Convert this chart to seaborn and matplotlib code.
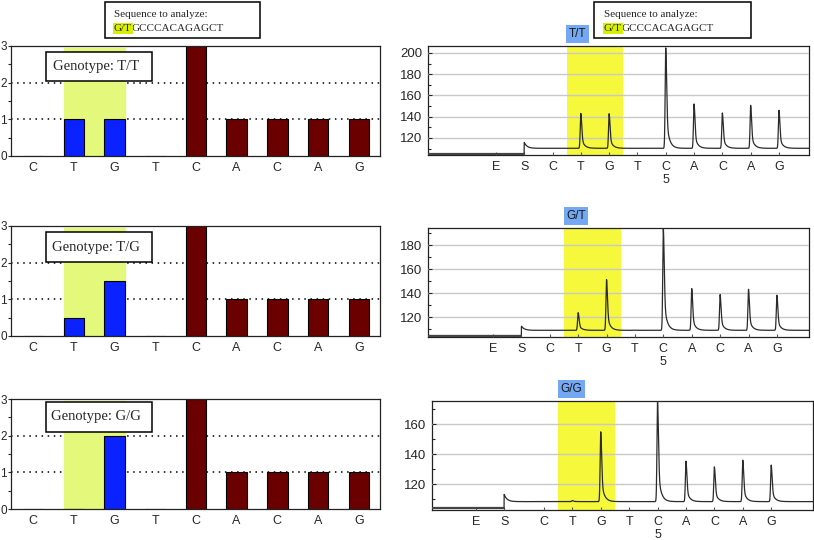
import numpy as np
import pandas as pd
import matplotlib
matplotlib.use("Agg")
import matplotlib.pyplot as plt
import matplotlib.transforms as mtransforms
from matplotlib.patches import Rectangle
import seaborn as sns

# expected peak histograms (left column)
bases = ["C", "T", "G", "T", "C", "A", "C", "A", "G"]
bar_group = ["ref", "snp", "snp", "ref", "ref", "ref", "ref", "ref", "ref"]
hist_tt = [0, 1, 1, 0, 3, 1, 1, 1, 1]
hist_tg = [0, 0.5, 1.5, 0, 3, 1, 1, 1, 1]
hist_gg = [0, 0, 2, 0, 3, 1, 1, 1, 1]
genotype_text = ["Genotype: T/T", "Genotype: T/G", "Genotype: G/G"]

# pyrograms (right column)
disp_labels = ["E", "S", "C", "T", "G", "T", "C\n5", "A", "C", "A", "G"]
disp_pos_ab = [0, 1, 2, 3, 4, 5, 6, 7, 8, 9, 10]
disp_pos_c = [-0.4, 0.6, 2, 3, 4, 5, 6, 7, 8, 9, 10]
peak_pos = [3, 4, 5, 6, 7, 8, 9, 10]
peaks_tt = [143, 142.8, 110.3, 204.7, 152, 143.5, 150.7, 146]
peaks_tg = [123.7, 151.4, 109, 194, 143.9, 138.9, 143.3, 138.3]
peaks_gg = [109, 154.9, 108.4, 175.3, 135.3, 131.5, 136, 132.7]
# baseline before S, bump at S, baseline after S
levels_tt = [105, 115.8, 110.3]
levels_tg = [104.5, 112.4, 108.9]
levels_gg = [104.2, 113.1, 108.3]
calls = ["T/T", "G/T", "G/G"]
yticks_tt = [120, 140, 160, 180, 200]
yticks_tg = [120, 140, 160, 180]
yticks_gg = [120, 140, 160]

W, H = 814, 540


def fig_rect(x0, y0, x1, y1):
    return [x0 / W, 1 - y1 / H, (x1 - x0) / W, (y1 - y0) / H]


sns.set_theme(style="white")
plt.rcParams["font.family"] = ["Liberation Sans", "DejaVu Sans"]
serif = ["Liberation Serif", "DejaVu Serif"]

fig = plt.figure(figsize=(W / 100, H / 100), dpi=100)

left_boxes = [(11, 46, 380, 156), (11, 226, 380, 336), (11, 399, 380, 509)]
geno_y = [(0.682, 0.945), (0.673, 0.945), (0.700, 0.973)]
hists = [hist_tt, hist_tg, hist_gg]

for (x0, y0, x1, y1), vals, gtxt, (gb, gt) in zip(left_boxes, hists, genotype_text, geno_y):
    ax = fig.add_axes(fig_rect(x0, y0, x1, y1))
    df = pd.DataFrame({"pos": range(len(bases)), "val": vals, "grp": bar_group})
    sns.barplot(data=df, x="pos", y="val", hue="grp",
                palette={"snp": "#0a22ff", "ref": "#6a0000"}, saturation=1,
                dodge=False, width=0.5, edgecolor="black", linewidth=0.8,
                legend=False, ax=ax, zorder=2)
    ax.axvspan(0.75, 2.25, ymax=0.982, color="#e4f97c", zorder=1)
    for lvl in [1, 2]:
        ax.axhline(lvl, ls=(0, (1, 3)), color="black", lw=1.1, zorder=0.5)
    ax.set_xlim(-0.54, 8.52)
    ax.set_ylim(0, 3)
    ax.set_xticks(range(len(bases)))
    ax.set_xticklabels(bases)
    ax.set_yticks([0, 1, 2, 3])
    ax.set_yticks([0.5, 1.5, 2.5], minor=True)
    ax.tick_params(axis="x", length=0, pad=4, labelsize=9)
    ax.tick_params(axis="y", which="major", direction="out", length=2.5, width=0.8,
                   pad=0.3, labelsize=8.5, left=True)
    ax.tick_params(axis="y", which="minor", direction="out", length=2.5, width=0.8, left=True)
    ax.set_xlabel("")
    ax.set_ylabel("")
    for sp in ax.spines.values():
        sp.set_color("#222222")
        sp.set_linewidth(0.9)
    ax.add_patch(Rectangle((0.095, gb), 0.287, gt - gb, transform=ax.transAxes,
                           facecolor="white", edgecolor="black", lw=1.1, zorder=5))
    ax.text(0.231, (gb + gt) / 2, gtxt, transform=ax.transAxes, ha="center",
            va="center", fontsize=10.5, family=serif, zorder=6)

right_boxes = [(428, 46, 809, 155), (428, 228, 809, 337), (432, 401, 813, 510)]
right_xlim = [(-2.4, 11.06), (-2.29, 11.13), (-1.94, 11.47)]
right_ylim = [(104, 206.5), (103.3, 194.4), (102.7, 175.5)]
right_ticks = [disp_pos_ab, disp_pos_ab, disp_pos_c]
right_peaks = [peaks_tt, peaks_tg, peaks_gg]
right_levels = [levels_tt, levels_tg, levels_gg]
right_yticks = [yticks_tt, yticks_tg, yticks_gg]

for box, xl, yl, tpos, pk, lv, yt, call in zip(right_boxes, right_xlim, right_ylim, right_ticks,
                                                right_peaks, right_levels, right_yticks, calls):
    ax = fig.add_axes(fig_rect(*box))
    s_pos = tpos[1]
    pre, bump, base = lv
    # rebuild the trace from the read peak heights
    x = np.arange(xl[0], xl[1], 0.004)
    after = np.clip(x - s_pos, 0, None)
    y = np.where(x < s_pos, pre, base + (bump - base) * np.exp(-after / 0.1))
    for p, h in zip(peak_pos, pk):
        a = h - base
        d = x - p
        dd = np.clip(d, 0, None)
        y = y + np.where(d < 0, a * np.exp(-(d / 0.03) ** 2),
                         a * (0.65 * np.exp(-(dd / 0.045) ** 2) + 0.35 * np.exp(-dd / 0.1)))
    ax.axvspan(2.5, 4.5, color="#f6f83c", zorder=0.2, lw=0)
    sns.lineplot(x=x, y=y, ax=ax, color="#2b2b2b", lw=0.9, estimator=None, sort=False, zorder=3)
    pre_mask = x < s_pos
    sns.lineplot(x=x[pre_mask], y=y[pre_mask], ax=ax, color="#444444", lw=1.6,
                 estimator=None, sort=False, zorder=3)
    ax.set_xlim(*xl)
    ax.set_ylim(*yl)
    ax.set_yticks(yt)
    ax.set_yticks(np.arange(110, yl[1], 10), minor=True)
    ax.yaxis.grid(True, color="#c9c9c9", lw=1)
    ax.set_axisbelow(False)
    for gl in ax.get_ygridlines():
        gl.set_zorder(0.5)
    ax.set_xticks(tpos)
    ax.set_xticklabels(disp_labels, linespacing=1.2)
    ax.tick_params(axis="x", direction="in", length=2.5, width=0.8, pad=4, labelsize=9,
                   bottom=True, color="#555555")
    ax.tick_params(axis="y", which="major", direction="in", length=3, width=0.8, pad=4,
                   labelsize=9.5, left=True)
    ax.tick_params(axis="y", which="minor", direction="in", length=2, width=0.8, left=True)
    ax.set_xlabel("")
    ax.set_ylabel("")
    for sp in ax.spines.values():
        sp.set_color("#222222")
        sp.set_linewidth(0.9)
    trans = mtransforms.blended_transform_factory(ax.transData, ax.transAxes)
    ax.text(2.5 + 0.08, 1.055, call, transform=trans, ha="left", va="bottom", fontsize=8.5,
            color="#1a1a1a",
            bbox=dict(boxstyle="square,pad=0.22", facecolor="#74a8f2", edgecolor="none"))

# "Sequence to analyze" boxes
anchor_ax = fig.axes[0]
for bx0, bx1, tx in [(105, 260, 114), (594, 751, 604)]:
    fig.add_artist(Rectangle((bx0 / W, 1 - 38 / H), (bx1 - bx0) / W, 36 / H,
                             transform=fig.transFigure, facecolor="none",
                             edgecolor="black", lw=1.1))
    fig.text(tx / W, 1 - 14.5 / H, "Sequence to analyze:", ha="left", va="center",
             fontsize=8, family=serif)
    t1 = fig.text(tx / W, 1 - 28.5 / H, "G/T", ha="left", va="center", fontsize=8,
                  family=serif,
                  bbox=dict(boxstyle="square,pad=0.08", facecolor="#d8f000", edgecolor="none"))
    anchor_ax.annotate("GCCCACAGAGCT", xy=(1, 0), xycoords=t1, ha="left", va="bottom",
                       fontsize=8, family=serif, annotation_clip=False)

fig.savefig("out.png", dpi=100)
